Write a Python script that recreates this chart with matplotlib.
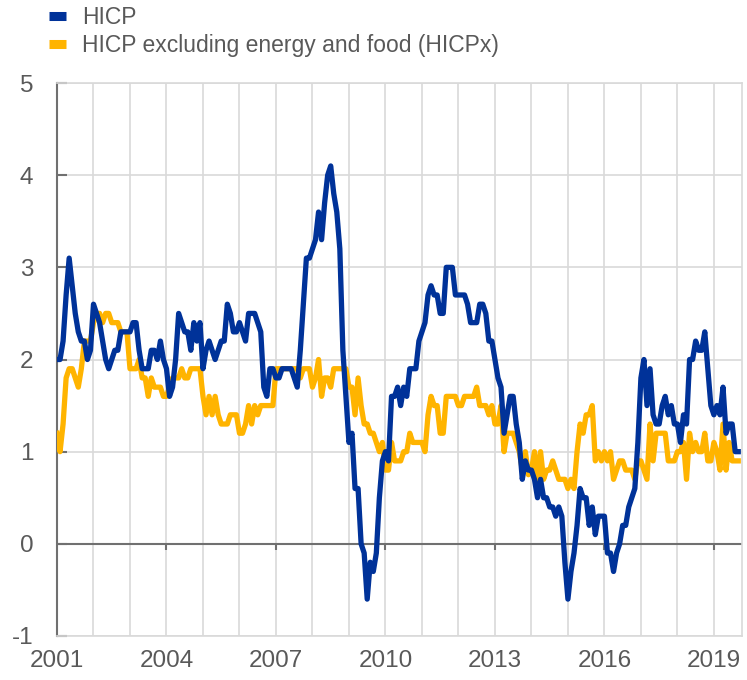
import numpy as np
import matplotlib.pyplot as plt
from matplotlib.lines import Line2D

# Euro area inflation, annual % change, monthly from Jan 2001 to Sep 2019
hicp = [
    2.0, 2.0, 2.2, 2.7, 3.1, 2.8, 2.5, 2.3, 2.2, 2.2, 2.0, 2.1,  # 2001
    2.6, 2.5, 2.4, 2.2, 2.0, 1.9, 2.0, 2.1, 2.1, 2.3, 2.3, 2.3,  # 2002
    2.3, 2.4, 2.4, 2.1, 1.9, 1.9, 1.9, 2.1, 2.1, 2.0, 2.2, 2.0,  # 2003
    1.9, 1.6, 1.7, 2.0, 2.5, 2.4, 2.3, 2.3, 2.1, 2.4, 2.2, 2.4,  # 2004
    1.9, 2.1, 2.2, 2.1, 2.0, 2.1, 2.2, 2.2, 2.6, 2.5, 2.3, 2.3,  # 2005
    2.4, 2.3, 2.2, 2.5, 2.5, 2.5, 2.4, 2.3, 1.7, 1.6, 1.9, 1.9,  # 2006
    1.8, 1.8, 1.9, 1.9, 1.9, 1.9, 1.8, 1.7, 2.1, 2.6, 3.1, 3.1,  # 2007
    3.2, 3.3, 3.6, 3.3, 3.7, 4.0, 4.1, 3.8, 3.6, 3.2, 2.1, 1.6,  # 2008
    1.1, 1.2, 0.6, 0.6, 0.0, -0.1, -0.6, -0.2, -0.3, -0.1, 0.5, 0.9,  # 2009
    1.0, 0.9, 1.6, 1.6, 1.7, 1.5, 1.7, 1.6, 1.9, 1.9, 1.9, 2.2,  # 2010
    2.3, 2.4, 2.7, 2.8, 2.7, 2.7, 2.5, 2.5, 3.0, 3.0, 3.0, 2.7,  # 2011
    2.7, 2.7, 2.7, 2.6, 2.4, 2.4, 2.4, 2.6, 2.6, 2.5, 2.2, 2.2,  # 2012
    2.0, 1.8, 1.7, 1.2, 1.4, 1.6, 1.6, 1.3, 1.1, 0.7, 0.9, 0.8,  # 2013
    0.8, 0.7, 0.5, 0.7, 0.5, 0.5, 0.4, 0.4, 0.3, 0.4, 0.3, -0.2,  # 2014
    -0.6, -0.3, -0.1, 0.2, 0.6, 0.5, 0.5, 0.2, 0.4, 0.1, 0.3, 0.3,  # 2015
    0.3, -0.1, -0.1, -0.3, -0.1, 0.0, 0.2, 0.2, 0.4, 0.5, 0.6, 1.1,  # 2016
    1.8, 2.0, 1.5, 1.9, 1.4, 1.3, 1.3, 1.5, 1.6, 1.4, 1.5, 1.3,  # 2017
    1.3, 1.1, 1.4, 1.3, 2.0, 2.0, 2.2, 2.1, 2.1, 2.3, 1.9, 1.5,  # 2018
    1.4, 1.5, 1.4, 1.7, 1.2, 1.3, 1.3, 1.0, 1.0,  # 2019
]

hicpx = [
    1.2, 1.0, 1.3, 1.8, 1.9, 1.9, 1.8, 1.7, 1.9, 2.2, 2.2, 2.2,  # 2001
    2.4, 2.5, 2.5, 2.4, 2.5, 2.5, 2.4, 2.4, 2.4, 2.3, 2.3, 2.3,  # 2002
    1.9, 1.9, 1.9, 2.0, 1.8, 1.8, 1.6, 1.8, 1.7, 1.7, 1.7, 1.6,  # 2003
    1.6, 1.7, 1.8, 1.8, 1.8, 1.9, 1.8, 1.8, 1.9, 1.9, 1.9, 1.9,  # 2004
    1.6, 1.4, 1.6, 1.4, 1.6, 1.4, 1.3, 1.3, 1.3, 1.4, 1.4, 1.4,  # 2005
    1.2, 1.2, 1.3, 1.5, 1.3, 1.5, 1.4, 1.5, 1.5, 1.5, 1.5, 1.5,  # 2006
    1.9, 1.9, 1.9, 1.9, 1.9, 1.9, 1.9, 1.9, 1.8, 1.9, 1.9, 1.9,  # 2007
    1.7, 1.8, 2.0, 1.6, 1.8, 1.8, 1.7, 1.9, 1.9, 1.9, 1.9, 1.9,  # 2008
    1.7, 1.7, 1.4, 1.8, 1.5, 1.3, 1.3, 1.2, 1.2, 1.1, 1.0, 1.1,  # 2009
    0.8, 0.8, 1.1, 0.9, 0.9, 0.9, 1.0, 1.0, 1.2, 1.1, 1.1, 1.1,  # 2010
    1.1, 1.0, 1.4, 1.6, 1.5, 1.5, 1.2, 1.2, 1.6, 1.6, 1.6, 1.6,  # 2011
    1.5, 1.5, 1.6, 1.6, 1.6, 1.6, 1.7, 1.5, 1.5, 1.5, 1.4, 1.5,  # 2012
    1.3, 1.3, 1.5, 1.0, 1.2, 1.2, 1.2, 1.1, 1.0, 0.8, 1.0, 0.75,  # 2013
    0.8, 1.0, 0.7, 1.0, 0.7, 0.8, 0.8, 0.9, 0.8, 0.7, 0.7, 0.7,  # 2014
    0.6, 0.7, 0.6, 1.0, 1.3, 1.2, 1.4, 1.4, 1.5, 0.9, 1.0, 0.9,  # 2015
    1.0, 0.9, 1.0, 0.7, 0.8, 0.9, 0.9, 0.8, 0.8, 0.8, 0.7, 0.9,  # 2016
    0.9, 0.8, 0.7, 1.3, 0.9, 1.2, 1.2, 1.2, 1.2, 0.9, 0.9, 0.9,  # 2017
    1.0, 1.0, 1.1, 0.7, 1.2, 1.0, 1.1, 1.0, 1.0, 1.2, 0.9, 0.9,  # 2018
    1.1, 1.0, 0.8, 1.3, 0.8, 1.1, 0.9, 0.9, 0.9,  # 2019
]

labels = ['HICP', 'HICP excluding energy and food (HICPx)']
colors = ['#003299', '#FFB400']
year_ticks = [2001, 2004, 2007, 2010, 2013, 2016, 2019]

t = 2001 + np.arange(len(hicp)) / 12.0

plt.rcParams['font.family'] = ['Liberation Sans', 'DejaVu Sans']
grey = '#595959'
light = '#d9d9d9'

fig = plt.figure(figsize=(7.47, 6.8), dpi=100)
ax = fig.add_axes([57/747, 1 - 636/680, (742 - 57)/747, (636 - 83)/680])

ax.plot(t, hicp, color=colors[0], lw=3.8, zorder=4, solid_joinstyle='round')
ax.plot(t, hicpx, color=colors[1], lw=3.8, zorder=3, solid_joinstyle='round')

ax.set_xlim(2001, 2019.77)
ax.set_ylim(-1, 5)

# grid every year / every unit
ax.set_xticks(np.arange(2002, 2020), minor=True)
ax.set_xticks(year_ticks)
ax.set_xticklabels([str(y) for y in year_ticks])
ax.set_yticks(range(-1, 6))
ax.set_yticklabels(['-1', '0', '1', '2', '3', '4', '5'])
ax.grid(True, which='both', color=light, lw=1.2, zorder=0)
ax.set_axisbelow(True)

for s in ['top', 'right', 'bottom']:
    ax.spines[s].set_color(light)
    ax.spines[s].set_linewidth(1.2)
ax.spines['left'].set_color('#707070')
ax.spines['left'].set_linewidth(1.5)

ax.tick_params(axis='x', which='both', length=0, pad=10, labelsize=17.5, labelcolor=grey)
ax.tick_params(axis='y', direction='in', length=7, width=1.5, color='#707070',
               pad=17, labelsize=17.5, labelcolor=grey)

# zero line with small ticks
ax.axhline(0, color='#707070', lw=1.5, zorder=2)
ax.vlines(year_ticks[1:], -0.07, 0, color='#707070', lw=1.5, zorder=2)

handles = [Line2D([], [], color=c, lw=6.5, solid_capstyle='butt') for c in colors]
fig.legend(handles, labels, loc='upper left', bbox_to_anchor=(49/747, 1 - 6/680),
           frameon=False, fontsize=16.5, handlelength=0.74, handletextpad=0.7,
           labelspacing=0.2, borderpad=0, borderaxespad=0, labelcolor=grey)

fig.savefig('out.png', dpi=100)
